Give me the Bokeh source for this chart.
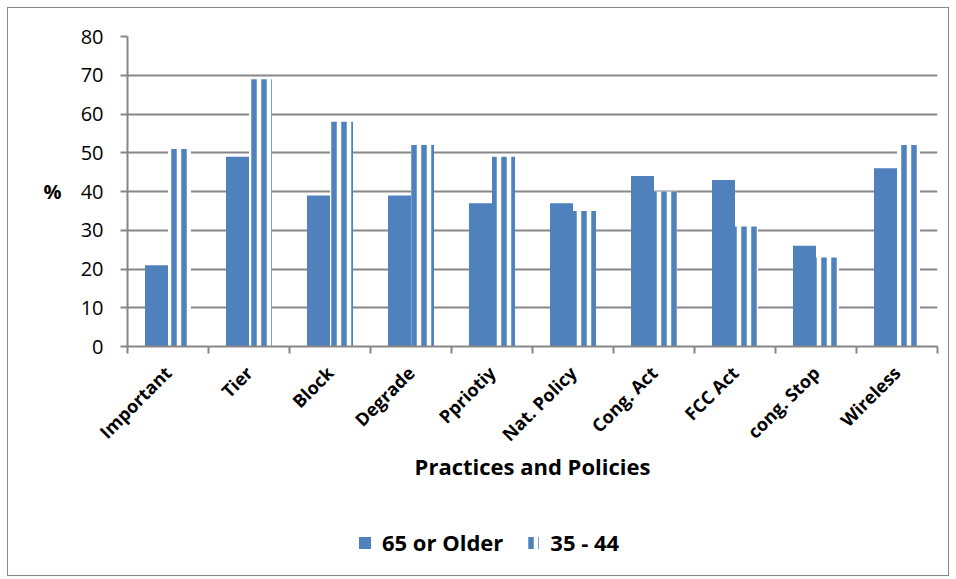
import math
from bokeh.plotting import figure
from bokeh.layouts import column
from bokeh.models import (ColumnDataSource, FixedTicker, Legend, LegendItem,
                          LinearAxis)
from bokeh.embed import file_html
from bokeh.resources import INLINE

# Survey shares (%) by practice/policy for two age groups
categories = ["Important", "Tier", "Block", "Degrade", "Ppriotiy",
              "Nat. Policy", "Cong. Act", "FCC Act", "cong. Stop", "Wireless"]
older_65 = [21, 49, 39, 39, 37, 37, 44, 43, 26, 46]
age_35_44 = [51, 69, 58, 52, 49, 35, 40, 31, 23, 52]
y_ticks = [0, 10, 20, 30, 40, 50, 60, 70, 80]

BLUE = "#4F81BD"
GRAY = "#878787"
FONT = "Open Sans"

centers = [i + 0.5 for i in range(len(categories))]
src = ColumnDataSource(dict(
    x_old=[c - 0.142 for c in centers],
    x_mid=[c + 0.142 for c in centers],
    older=older_65,
    mid=age_35_44,
))

OLD_STYLE = dict(fill_color=BLUE, line_color=None)
MID_STYLE = dict(fill_color="white", line_color=None,
                 hatch_pattern="vertical_line", hatch_color=BLUE,
                 hatch_scale=10, hatch_weight=5.5)

# ---- main chart ----
p = figure(width=940, height=492, x_range=(0, len(categories)), y_range=(0, 80),
           output_backend="svg", toolbar_location=None,
           min_border_left=119, min_border_top=28, min_border_right=11,
           min_border_bottom=154)
p.outline_line_color = None
p.background_fill_color = "white"
p.border_fill_color = "white"

p.vbar(x="x_old", top="older", width=0.284, source=src, **OLD_STYLE)
p.vbar(x="x_mid", top="mid", width=0.284, source=src, **MID_STYLE)

p.xgrid.grid_line_color = None
p.ygrid.grid_line_color = GRAY
p.ygrid.grid_line_width = 2
p.ygrid.ticker = FixedTicker(ticks=y_ticks)

ya = p.yaxis[0]
ya.ticker = FixedTicker(ticks=y_ticks)
ya.axis_line_color = GRAY
ya.axis_line_width = 2
ya.major_tick_line_color = GRAY
ya.major_tick_line_width = 2
ya.major_tick_out = 7
ya.major_tick_in = 0
ya.minor_tick_line_color = None
ya.major_label_standoff = 17
ya.major_label_text_font = FONT
ya.major_label_text_font_size = "20px"
ya.major_label_text_color = "black"

# "%" unit marker beside the 40 tick
pct = LinearAxis(ticker=FixedTicker(ticks=[40]), major_label_overrides={40: "%"})
pct.axis_line_color = None
pct.major_tick_line_color = None
pct.minor_tick_line_color = None
pct.major_tick_out = 0
pct.major_tick_in = 0
pct.major_label_standoff = 16
pct.major_label_text_font = FONT
pct.major_label_text_font_style = "bold"
pct.major_label_text_font_size = "20px"
pct.major_label_text_color = "black"
p.add_layout(pct, "left")

# x axis: names at category centres, tick marks at category boundaries
xa = p.xaxis[0]
xa.ticker = FixedTicker(ticks=centers, minor_ticks=list(range(len(categories) + 1)))
xa.major_label_overrides = {c: name for c, name in zip(centers, categories)}
xa.major_label_orientation = math.pi / 4
xa.major_label_standoff = 16
xa.major_label_text_font = FONT
xa.major_label_text_font_style = "bold"
xa.major_label_text_font_size = "18px"
xa.major_label_text_color = "black"
xa.major_tick_out = 0
xa.major_tick_in = 0
xa.minor_tick_out = 7
xa.minor_tick_in = 0
xa.minor_tick_line_color = GRAY
xa.minor_tick_line_width = 2
xa.axis_line_color = GRAY
xa.axis_line_width = 2
xa.axis_label = "Practices and Policies"
xa.axis_label_text_font = FONT
xa.axis_label_text_font_style = "bold"
xa.axis_label_text_font_size = "22px"
xa.axis_label_text_color = "black"
xa.axis_label_standoff = -6

# ---- legend strip under the chart ----
leg = figure(width=940, height=75, x_range=(100, 101), y_range=(100, 101),
             output_backend="svg", toolbar_location=None,
             x_axis_location=None, y_axis_location=None, min_border=0)
leg.outline_line_color = None
leg.xgrid.grid_line_color = None
leg.ygrid.grid_line_color = None
r_old = leg.vbar(x="x_old", top="older", width=0.284, source=src, **OLD_STYLE)
r_mid = leg.vbar(x="x_mid", top="mid", width=0.284, source=src, **MID_STYLE)

legend = Legend(items=[LegendItem(label="65 or Older", renderers=[r_old]),
                       LegendItem(label="35 - 44", renderers=[r_mid])],
                orientation="horizontal", location=(230, 18))
legend.label_text_font = FONT
legend.label_text_font_style = "bold"
legend.label_text_font_size = "22px"
legend.label_text_color = "black"
legend.glyph_width = 15
legend.glyph_height = 15
legend.spacing = 22
legend.label_standoff = 10
legend.padding = 0
legend.margin = 0
legend.border_line_color = None
legend.background_fill_alpha = 0
leg.add_layout(legend, "center")

layout = column(p, leg, spacing=0)
layout.margin = (7, 0, 0, 7)
layout.styles = {"border": "1px solid " + GRAY}

open("out.html", "w").write(file_html(layout, INLINE))
